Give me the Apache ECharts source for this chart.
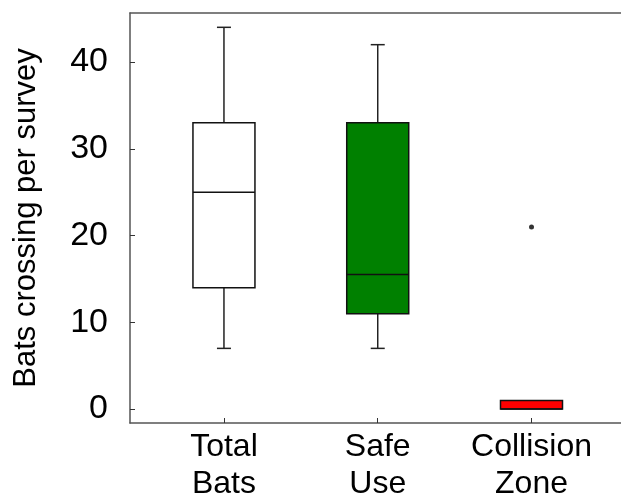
<!DOCTYPE html>
<html>
<head>
<meta charset="utf-8">
<script src="https://cdn.jsdelivr.net/npm/echarts@6/dist/echarts.min.js"></script>
<style>
  html, body { margin: 0; padding: 0; background: #fff; }
  #chart { width: 621px; height: 497px; }
</style>
</head>
<body>
<div id="chart"></div>
<script>
// Box summaries of bats crossing per survey
const categories = ['Total\nBats', 'Safe\nUse', 'Collision\nZone'];
const whiskerLow = [7, 7, 0];
const quartile1 = [14, 11, 0];
const medians = [25, 15.5, 0];
const quartile3 = [33, 33, 1];
const whiskerHigh = [44, 42, 1];
const outliers = [[3, 21]];
const yTicks = [0, 10, 20, 30, 40];
const boxFills = ['#ffffff', '#008000', '#ff0000'];

const catPositions = categories.map((c, i) => i + 1);
const boxData = categories.map((c, i) => [
  catPositions[i], whiskerLow[i], quartile1[i], medians[i], quartile3[i], whiskerHigh[i]
]);

const FONT = '"Liberation Sans", Arial, sans-serif';
const BOX_HALF = 31;
const CAP_HALF = 7;

function renderBox(params, api) {
  const x = api.value(0);
  const lo = api.coord([x, api.value(1)]);
  const q1 = api.coord([x, api.value(2)]);
  const md = api.coord([x, api.value(3)]);
  const q3 = api.coord([x, api.value(4)]);
  const hi = api.coord([x, api.value(5)]);
  const cx = q1[0];
  const children = [];
  const lineStyle = { stroke: '#222', lineWidth: 1.5 };
  if (api.value(5) > api.value(4)) {
    children.push({ type: 'line', shape: { x1: cx, y1: q3[1], x2: cx, y2: hi[1] }, style: lineStyle });
    children.push({ type: 'line', shape: { x1: cx - CAP_HALF, y1: hi[1], x2: cx + CAP_HALF, y2: hi[1] }, style: lineStyle });
  }
  if (api.value(1) < api.value(2)) {
    children.push({ type: 'line', shape: { x1: cx, y1: q1[1], x2: cx, y2: lo[1] }, style: lineStyle });
    children.push({ type: 'line', shape: { x1: cx - CAP_HALF, y1: lo[1], x2: cx + CAP_HALF, y2: lo[1] }, style: lineStyle });
  }
  children.push({
    type: 'rect',
    shape: { x: cx - BOX_HALF, y: q3[1], width: BOX_HALF * 2, height: q1[1] - q3[1] },
    style: { fill: boxFills[params.dataIndex], stroke: '#111', lineWidth: 1.5 }
  });
  children.push({
    type: 'line',
    shape: { x1: cx - BOX_HALF, y1: md[1], x2: cx + BOX_HALF, y2: md[1] },
    style: { stroke: '#111', lineWidth: 1.5 }
  });
  return { type: 'group', children: children };
}

const chart = echarts.init(document.getElementById('chart'), null, { renderer: 'canvas' });
chart.setOption({
  animation: false,
  backgroundColor: '#ffffff',
  grid: { left: 130, right: 0, top: 13, bottom: 74, outerBoundsMode: 'none', containLabel: false },
  xAxis: [
    {
      type: 'value',
      min: 0.389,
      max: 3.582,
      splitLine: { show: false },
      axisLine: { show: true, onZero: false, lineStyle: { color: '#555', width: 1.5 } },
      axisTick: {
        show: true, inside: true, length: 5,
        customValues: catPositions,
        lineStyle: { color: '#333', width: 1 }
      },
      axisLabel: {
        show: true,
        customValues: catPositions,
        formatter: v => categories[Math.round(v) - 1] || '',
        fontFamily: FONT,
        fontSize: 32,
        lineHeight: 37,
        color: '#000',
        margin: 6
      }
    },
    {
      type: 'value',
      position: 'top',
      min: 0.389,
      max: 3.582,
      splitLine: { show: false },
      axisLine: { show: true, onZero: false, lineStyle: { color: '#555', width: 1.5 } },
      axisTick: { show: false },
      axisLabel: { show: false }
    }
  ],
  yAxis: {
    type: 'value',
    min: -1.6,
    max: 45.65,
    name: 'Bats crossing per survey',
    nameLocation: 'middle',
    nameRotate: 90,
    nameGap: 88,
    nameTextStyle: { fontFamily: FONT, fontSize: 31, color: '#000' },
    splitLine: { show: false },
    axisLine: { show: true, onZero: false, lineStyle: { color: '#555', width: 1.5 } },
    axisTick: {
      show: true, inside: true, length: 5,
      customValues: yTicks,
      lineStyle: { color: '#333', width: 1 }
    },
    axisLabel: {
      customValues: yTicks,
      fontFamily: FONT,
      fontSize: 34,
      color: '#000',
      margin: 22
    }
  },
  series: [
    {
      type: 'custom',
      renderItem: renderBox,
      encode: { x: 0, y: [1, 2, 3, 4, 5] },
      data: boxData,
      z: 3
    },
    {
      type: 'scatter',
      data: outliers,
      symbol: 'circle',
      symbolSize: 5,
      itemStyle: { color: '#000' },
      z: 4
    }
  ]
});
</script>
</body>
</html>
